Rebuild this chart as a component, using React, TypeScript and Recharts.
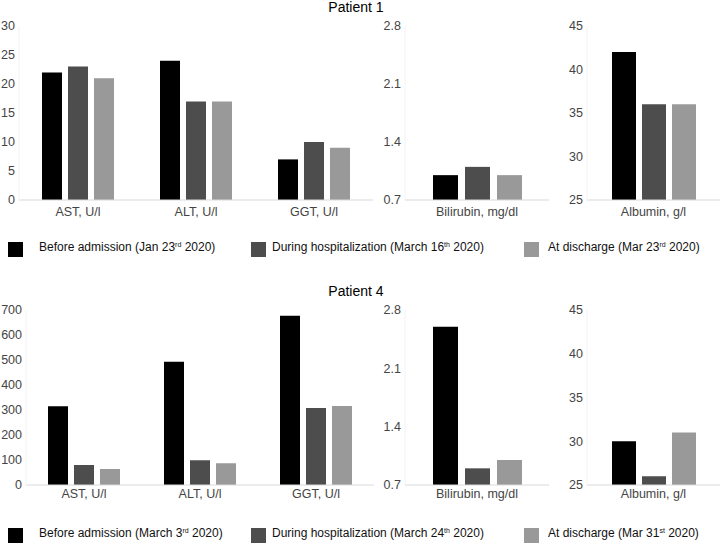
import React from "react";
import { BarChart, Bar, XAxis, YAxis } from "recharts";

// order of every value list: before admission, during hospitalization, at discharge
const enzymeCategories = ["AST, U/l", "ALT, U/l", "GGT, U/l"];
const bilirubinCategory = "Bilirubin, mg/dl";
const albuminCategory = "Albumin, g/l";

const p1Before = [22, 24, 7];
const p1During = [23, 17, 10];
const p1Discharge = [21, 17, 9];
const p1Bilirubin = [1.0, 1.1, 1.0];
const p1Albumin = [42, 36, 36];

const p4Before = [315, 493, 677];
const p4During = [80, 99, 308];
const p4Discharge = [64, 87, 316];
const p4Bilirubin = [2.6, 0.9, 1.0];
const p4Albumin = [30, 26, 31];

const p1EnzymeTicks = [0, 5, 10, 15, 20, 25, 30];
const p4EnzymeTicks = [0, 100, 200, 300, 400, 500, 600, 700];
const bilirubinTicks = [0.7, 1.4, 2.1, 2.8];
const albuminTicks = [25, 30, 35, 40, 45];

const p1Legend = [
  ["Before admission (Jan 23", "rd", " 2020)"],
  ["During hospitalization (March 16", "th", " 2020)"],
  ["At discharge (Mar 23", "rd", " 2020)"],
];
const p4Legend = [
  ["Before admission (March 3", "rd", " 2020)"],
  ["During hospitalization (March 24", "th", " 2020)"],
  ["At discharge (Mar 31", "st", " 2020)"],
];

const seriesKeys = ["before", "during", "discharge"];
const seriesColors = ["#000000", "#4d4d4d", "#999999"];
const FONT = "'Liberation Sans', Arial, Helvetica, sans-serif";

const enzymeRows = (b: number[], d: number[], c: number[]) =>
  enzymeCategories.map((name, i) => ({ name, before: b[i], during: d[i], discharge: c[i] }));
const singleRow = (name: string, v: number[]) => [
  { name, before: v[0], during: v[1], discharge: v[2] },
];

type PanelProps = {
  data: any[];
  left: number;
  top: number;
  width: number;
  height: number;
  yWidth: number;
  ticks: number[];
  barSize: number;
  barGap: number;
  xMargin: number;
  decimals?: number;
};

function Panel(p: PanelProps) {
  return (
    <div style={{ position: "absolute", left: p.left, top: p.top }}>
      <BarChart
        width={p.width}
        height={p.height}
        data={p.data}
        margin={{ top: 26, right: 0, bottom: 0, left: 0 }}
        barGap={p.barGap}
        barCategoryGap={0}
      >
        <XAxis
          dataKey="name"
          axisLine={{ stroke: "#d9d9d9" }}
          tickLine={false}
          tickSize={0}
          tickMargin={p.xMargin}
          height={30}
          interval={0}
          tick={{ fill: "#444", fontSize: 12.5, fontFamily: FONT }}
        />
        <YAxis
          type="number"
          domain={[p.ticks[0], p.ticks[p.ticks.length - 1]]}
          ticks={p.ticks}
          interval={0}
          width={p.yWidth}
          axisLine={{ stroke: "#f3f3f3" }}
          tickLine={false}
          tickSize={0}
          tickMargin={4}
          tick={{ fill: "#444", fontSize: 12.5, fontFamily: FONT }}
          tickFormatter={(v: number) => (p.decimals ? v.toFixed(p.decimals) : String(v))}
        />
        {seriesKeys.map((k, i) => (
          <Bar
            key={k}
            dataKey={k}
            fill={seriesColors[i]}
            barSize={p.barSize}
            isAnimationActive={false}
          />
        ))}
      </BarChart>
    </div>
  );
}

function Legend({ items, top }: { items: string[][]; top: number }) {
  const squareX = [8, 251, 524];
  const textX = [39, 272, 548];
  return (
    <>
      {items.map((t, i) => (
        <React.Fragment key={i}>
          <div
            style={{
              position: "absolute",
              left: squareX[i],
              top: top + 1,
              width: 15,
              height: 15,
              background: seriesColors[i],
            }}
          />
          <div
            style={{
              position: "absolute",
              left: textX[i],
              top: top,
              fontSize: 12,
              lineHeight: "12px",
              whiteSpace: "nowrap",
              color: "#111",
            }}
          >
            {t[0]}
            <span style={{ fontSize: 7, position: "relative", top: -4 }}>{t[1]}</span>
            {t[2]}
          </div>
        </React.Fragment>
      ))}
    </>
  );
}

function Title({ text, top }: { text: string; top: number }) {
  return (
    <div
      style={{
        position: "absolute",
        left: 256,
        width: 200,
        top,
        textAlign: "center",
        fontSize: 14,
        lineHeight: "14px",
        color: "#000",
      }}
    >
      {text}
    </div>
  );
}

export default function App() {
  return (
    <div
      style={{
        position: "absolute",
        left: 0,
        top: 0,
        width: 722,
        height: 544,
        background: "#fff",
        fontFamily: FONT,
        overflow: "hidden",
      }}
    >
      <Title text="Patient 1" top={0} />
      <Panel
        data={enzymeRows(p1Before, p1During, p1Discharge)}
        left={0}
        top={0}
        width={373}
        height={230}
        yWidth={19}
        ticks={p1EnzymeTicks}
        barSize={20}
        barGap={6}
        xMargin={7}
      />
      <Panel
        data={singleRow(bilirubinCategory, p1Bilirubin)}
        left={375}
        top={0}
        width={174}
        height={230}
        yWidth={30}
        ticks={bilirubinTicks}
        barSize={25}
        barGap={7}
        xMargin={7}
        decimals={1}
      />
      <Panel
        data={singleRow(albuminCategory, p1Albumin)}
        left={557}
        top={0}
        width={163}
        height={230}
        yWidth={30}
        ticks={albuminTicks}
        barSize={24}
        barGap={6}
        xMargin={7}
      />
      <Legend items={p1Legend} top={241} />

      <Title text="Patient 4" top={284} />
      <Panel
        data={enzymeRows(p4Before, p4During, p4Discharge)}
        left={0}
        top={284}
        width={374}
        height={231}
        yWidth={26}
        ticks={p4EnzymeTicks}
        barSize={20}
        barGap={6}
        xMargin={4}
      />
      <Panel
        data={singleRow(bilirubinCategory, p4Bilirubin)}
        left={375}
        top={284}
        width={174}
        height={231}
        yWidth={30}
        ticks={bilirubinTicks}
        barSize={25}
        barGap={7}
        xMargin={4}
        decimals={1}
      />
      <Panel
        data={singleRow(albuminCategory, p4Albumin)}
        left={557}
        top={284}
        width={163}
        height={231}
        yWidth={30}
        ticks={albuminTicks}
        barSize={24}
        barGap={6}
        xMargin={4}
      />
      <Legend items={p4Legend} top={527} />
    </div>
  );
}
